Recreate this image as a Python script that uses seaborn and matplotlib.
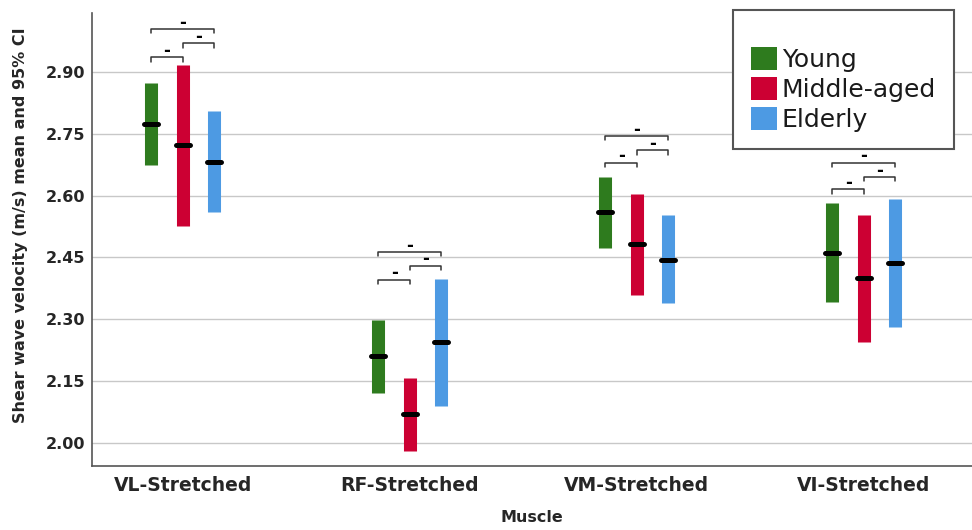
import numpy as np
import pandas as pd
import matplotlib
matplotlib.use('Agg')
import matplotlib.pyplot as plt
from matplotlib.patches import Patch
from matplotlib.markers import MarkerStyle
from matplotlib.ticker import FormatStrFormatter
import seaborn as sns

muscles = ['VL-Stretched', 'RF-Stretched', 'VM-Stretched', 'VI-Stretched']
groups = ['Young', 'Middle-aged', 'Elderly']
colors = ['#2E7B1E', '#CC0033', '#4D9AE3']

# mean and 95% CI per group, in muscle order
young_mean = [2.774, 2.211, 2.560, 2.462]
young_lo = [2.674, 2.121, 2.474, 2.342]
young_hi = [2.873, 2.298, 2.646, 2.582]
middle_mean = [2.723, 2.069, 2.482, 2.400]
middle_lo = [2.526, 1.980, 2.360, 2.246]
middle_hi = [2.917, 2.157, 2.604, 2.553]
elderly_mean = [2.682, 2.245, 2.445, 2.437]
elderly_lo = [2.560, 2.090, 2.339, 2.281]
elderly_hi = [2.805, 2.398, 2.552, 2.593]

# pairwise comparison brackets (Young-Middle, Middle-Elderly, Young-Elderly)
bracket_ym = [2.936, 2.396, 2.680, 2.615]
bracket_me = [2.970, 2.430, 2.710, 2.645]
bracket_ye = [3.004, 2.463, 2.745, 2.680]
bracket_label = '-'

yticks = [2.00, 2.15, 2.30, 2.45, 2.60, 2.75, 2.90]


def main():
    series = {
        'Young': (young_lo, young_mean, young_hi),
        'Middle-aged': (middle_lo, middle_mean, middle_hi),
        'Elderly': (elderly_lo, elderly_mean, elderly_hi),
    }
    rows = []
    for g in groups:
        lo, mean, hi = series[g]
        for i, mu in enumerate(muscles):
            for v in (lo[i], mean[i], hi[i]):
                rows.append({'Muscle': mu, 'Group': g, 'value': v})
    df = pd.DataFrame(rows)

    sns.set_style('white')
    plt.rcParams['font.family'] = ['DejaVu Sans']
    plt.rcParams['text.color'] = '#1a1a1a'

    fig = plt.figure(figsize=(9.72, 5.30), dpi=100)
    ax = fig.add_axes([92 / 972, 64 / 530, 880 / 972, 452.7 / 530])

    dodge = 0.278
    sns.pointplot(data=df, x='Muscle', y='value', hue='Group',
                  order=muscles, hue_order=groups, palette=colors,
                  estimator='median', errorbar=lambda v: (v.min(), v.max()),
                  dodge=dodge, markers='_', linestyle='none',
                  markersize=10, markeredgewidth=3.6,
                  err_kws={'linewidth': 9.4, 'solid_capstyle': 'butt'},
                  legend=False, ax=ax)

    # black mean markers on top of the CI bars
    for line in ax.lines:
        if line.get_marker() == '_':
            line.set_marker(MarkerStyle('_', capstyle='round'))
            line.set_markeredgecolor('black')
            line.set_markerfacecolor('black')
            line.set_zorder(5)

    offsets = np.linspace(-dodge / 2, dodge / 2, len(groups))
    tick = 0.0105
    for i in range(len(muscles)):
        for (a, b), ys in [((0, 1), bracket_ym), ((1, 2), bracket_me), ((0, 2), bracket_ye)]:
            x0, x1 = i + offsets[a], i + offsets[b]
            y = ys[i]
            ax.plot([x0, x0, x1, x1], [y - tick, y, y, y - tick],
                    color='#333333', lw=1.1, zorder=4)
            ax.annotate(bracket_label, ((x0 + x1) / 2, y), xytext=(0, 4.5),
                        textcoords='offset points', ha='center', va='center',
                        fontsize=12, fontweight='bold', color='black')

    ax.set_xlim(-0.40, 3.476)
    ax.set_ylim(1.944, 3.0425)
    ax.set_yticks(yticks)
    ax.set_yticks(np.array(yticks) + 0.075, minor=True)
    ax.yaxis.set_major_formatter(FormatStrFormatter('%.2f'))
    ax.yaxis.grid(True, which='major', color='#c8c8c8', lw=1)
    ax.set_axisbelow(True)
    ax.tick_params(axis='y', which='major', length=0, pad=5, labelsize=11.5)
    ax.tick_params(axis='y', which='minor', length=4.5, width=1,
                   color='#444444', direction='out')
    ax.tick_params(axis='x', length=0, pad=7, labelsize=13.5)
    for lab in ax.get_xticklabels() + ax.get_yticklabels():
        lab.set_fontweight('bold')

    ax.set_xlabel('Muscle', fontsize=11.5, fontweight='bold', labelpad=11)
    ax.set_ylabel('Shear wave velocity (m/s) mean and 95% CI',
                  fontsize=11.5, fontweight='bold')
    ax.yaxis.set_label_coords(-0.073, 0.532)

    sns.despine(ax=ax)
    for side in ['left', 'bottom']:
        ax.spines[side].set_color('#555555')
        ax.spines[side].set_linewidth(1.2)

    handles = [Patch(facecolor=c, edgecolor='none') for c in colors]
    leg = fig.legend(handles, groups, loc='upper left',
                     bbox_to_anchor=(733 / 972, 1 - 10 / 530),
                     fontsize=18, title=' ', title_fontsize=10,
                     frameon=True, fancybox=False, edgecolor='#555555',
                     framealpha=1, borderpad=0.7, handlelength=1.05,
                     handleheight=1.05, handletextpad=0.2,
                     labelspacing=0.2, borderaxespad=0)
    leg.get_frame().set_linewidth(1.5)

    fig.savefig('out.png', dpi=100)
    plt.close(fig)


if __name__ == '__main__':
    main()
